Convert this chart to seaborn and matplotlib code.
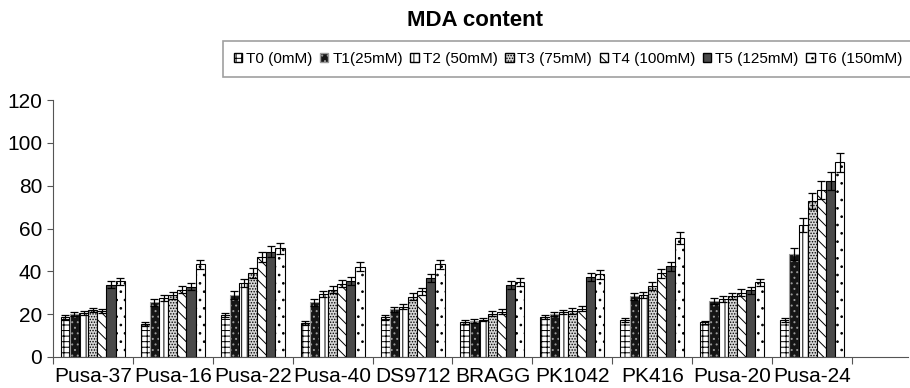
import numpy as np
import pandas as pd
import seaborn as sns
import matplotlib.pyplot as plt
from matplotlib.patches import Patch

# Data
varieties = ['Pusa-37', 'Pusa-16', 'Pusa-22', 'Pusa-40', 'DS9712',
             'BRAGG', 'PK1042', 'PK416', 'Pusa-20', 'Pusa-24']
treatments = ['T0 (0mM)', 'T1(25mM)', 'T2 (50mM)', 'T3 (75mM)',
              'T4 (100mM)', 'T5 (125mM)', 'T6 (150mM)']

t0 = [18.5, 15.5, 19.7, 16.0, 18.5, 16.3, 18.7, 17.2, 16.2, 17.2]
t1 = [20.0, 25.5, 29.0, 25.5, 22.2, 16.8, 20.0, 28.3, 26.2, 48.0]
t2 = [20.5, 27.5, 34.5, 29.4, 23.4, 17.5, 21.0, 29.0, 27.0, 61.5]
t3 = [22.0, 28.8, 39.3, 31.5, 28.2, 20.3, 21.5, 33.0, 28.4, 72.8]
t4 = [21.5, 31.5, 46.8, 34.3, 30.6, 21.2, 22.5, 39.0, 30.0, 78.0]
t5 = [33.8, 32.8, 49.2, 35.5, 36.8, 33.7, 37.3, 42.3, 31.2, 82.3]
t6 = [35.3, 43.3, 50.8, 42.2, 43.2, 35.0, 38.6, 55.8, 34.8, 91.0]

e0 = [1.0, 1.0, 1.0, 1.0, 1.0, 0.8, 1.0, 1.0, 0.8, 1.0]
e1 = [1.0, 1.5, 1.8, 1.5, 1.2, 0.8, 1.0, 1.5, 1.3, 2.8]
e2 = [1.0, 1.5, 2.0, 1.5, 1.2, 0.8, 1.0, 1.5, 1.4, 3.2]
e3 = [1.0, 1.5, 2.2, 1.6, 1.5, 1.0, 1.2, 1.8, 1.5, 3.8]
e4 = [1.0, 1.6, 2.4, 1.8, 1.6, 1.0, 1.2, 2.0, 1.6, 4.0]
e5 = [1.8, 1.7, 2.5, 1.8, 1.9, 1.8, 2.0, 2.2, 1.6, 4.2]
e6 = [1.8, 2.2, 2.6, 2.2, 2.2, 1.8, 2.0, 2.8, 1.8, 4.5]

values = [t0, t1, t2, t3, t4, t5, t6]
errors = [e0, e1, e2, e3, e4, e5, e6]

df = pd.DataFrame({
    'variety': np.tile(varieties, len(treatments)),
    'treatment': np.repeat(treatments, len(varieties)),
    'mda': np.concatenate(values),
})

# styles per treatment
faces = ['white', '#151515', 'white', '#d8d8d8', 'white', '#4a4a4a', 'white']
hatches = ['+++', '...', '|||', '......', '\\\\\\', '', '..']
edges = ['black', '#9a9a9a', 'black', 'black', 'black', 'black', 'black']

plt.rcParams['font.family'] = ['Liberation Sans', 'DejaVu Sans']
plt.rcParams['hatch.linewidth'] = 0.7

fig = plt.figure(figsize=(9.1, 3.88), dpi=100)
ax = fig.add_axes([0.058, 0.080, 0.94, 0.662])

sns.barplot(data=df, x='variety', y='mda', hue='treatment',
            order=varieties, hue_order=treatments, errorbar=None,
            width=0.8, ax=ax, legend=False)

bar_groups = list(ax.containers)
for i, cont in enumerate(bar_groups):
    xs, ys = [], []
    for bar in cont:
        bar.set_facecolor(faces[i])
        bar.set_edgecolor(edges[i])
        bar.set_hatch(hatches[i])
        bar.set_linewidth(0.8)
        xs.append(bar.get_x() + bar.get_width() / 2)
        ys.append(bar.get_height())
    ax.errorbar(xs, ys, yerr=errors[i], fmt='none', ecolor='black',
                elinewidth=0.9, capsize=3, capthick=0.9, zorder=5)

ax.set_ylim(0, 120)
ax.set_yticks(range(0, 121, 20))
ax.set_xticks(np.arange(-0.5, 10, 1.0))
ax.set_xticklabels([])
ax.set_xticks(range(len(varieties)), minor=True)
ax.set_xticklabels(varieties, minor=True)
ax.tick_params(axis='x', which='minor', length=0, labelsize=15, pad=7)
ax.tick_params(axis='x', which='major', length=5, color='#555555')
ax.tick_params(axis='y', labelsize=15, length=4, color='#555555')
ax.set_xlabel('')
ax.set_ylabel('')
for s in ['top', 'right']:
    ax.spines[s].set_visible(False)
for s in ['left', 'bottom']:
    ax.spines[s].set_color('#555555')
ax.set_xlim(-0.5, 10.2)

handles = [Patch(facecolor=faces[i], edgecolor=edges[i], hatch=hatches[i],
                 label=treatments[i]) for i in range(len(treatments))]
leg = fig.legend(handles=handles, loc='center', ncol=7,
                 bbox_to_anchor=(0.624, 0.848), fontsize=11,
                 frameon=True, fancybox=False, handlelength=0.55,
                 handleheight=0.6, handletextpad=0.25, columnspacing=0.5,
                 borderpad=0.7, borderaxespad=0)
leg.get_frame().set_edgecolor('#888888')
leg.get_frame().set_linewidth(1.2)

fig.text(0.522, 0.948, 'MDA content', fontsize=16, fontweight='bold',
         ha='center', va='center')

plt.savefig('out.png', dpi=100)
